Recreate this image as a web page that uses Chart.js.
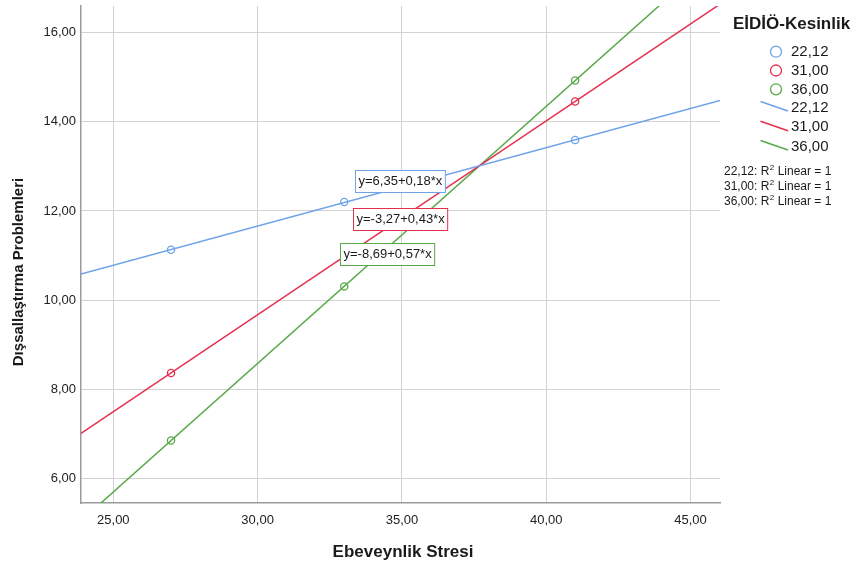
<!DOCTYPE html>
<html>
<head>
<meta charset="utf-8">
<script src="https://cdn.jsdelivr.net/npm/chart.js@4.4.0/dist/chart.umd.min.js"></script>
<style>
  html, body { margin: 0; padding: 0; background: #fff; }
  #wrap { width: 859px; height: 568px; }
</style>
</head>
<body>
<div id="wrap"><canvas id="chart" width="859" height="568"></canvas></div>
<script>
// EİDİÖ-Kesinlik groups and their colours
const groups = ["22,12", "31,00", "36,00"];
const colors = ["#6ea3e8", "#e4304f", "#59a94a"];

// observed points (Ebeveynlik Stresi -> Dışsallaştırma Problemleri)
const stressX = [27, 33, 41];
const valuesLow = [11.13, 12.20, 13.59];
const valuesMid = [8.37, 10.98, 14.45];
const valuesHigh = [6.86, 10.31, 14.92];

// printed regression equations
const eqIntercepts = [6.35, -3.27, -8.69];
const eqSlopes = [0.18, 0.43, 0.57];

const xTicks = [25, 30, 35, 40, 45];
const yTicks = [6, 8, 10, 12, 14, 16];
const xRange = [23.88, 46.02];
const yRange = [5.46, 16.59];

const fmt = v => v.toFixed(2).replace('.', ',');

// least squares fit through the points, drawn across the whole x range
function fitLine(xs, ys) {
  const n = xs.length;
  const mx = xs.reduce((a, b) => a + b, 0) / n;
  const my = ys.reduce((a, b) => a + b, 0) / n;
  let sxy = 0, sxx = 0;
  for (let i = 0; i < n; i++) {
    sxy += (xs[i] - mx) * (ys[i] - my);
    sxx += (xs[i] - mx) * (xs[i] - mx);
  }
  const b = sxy / sxx;
  const a = my - b * mx;
  return xRange.map(x => ({ x: x, y: a + b * x }));
}

const seriesList = [valuesLow, valuesMid, valuesHigh];
const datasets = [];
seriesList.forEach((vals, i) => {
  datasets.push({
    type: 'line',
    label: groups[i],
    data: fitLine(stressX, vals),
    borderColor: colors[i],
    borderWidth: 1.5,
    pointRadius: 0,
    fill: false,
    order: 2
  });
});
seriesList.forEach((vals, i) => {
  datasets.push({
    type: 'scatter',
    label: groups[i],
    data: stressX.map((x, j) => ({ x: x, y: vals[j] })),
    borderColor: colors[i],
    backgroundColor: 'rgba(0,0,0,0)',
    borderWidth: 1.3,
    pointRadius: 3.6,
    order: 1
  });
});

// where the equation boxes sit (offset from x=33, centre y in px)
const eqBoxes = [
  { dx: 11, cy: 180.5 },
  { dx: 8.5, cy: 219.3 },
  { dx: -4, cy: 254 }
];

const overlay = {
  id: 'overlay',
  afterDatasetsDraw(chart) {
    const ctx = chart.ctx;
    const x33 = chart.scales.x.getPixelForValue(33);
    ctx.save();
    ctx.font = '13px "Liberation Sans", Arial, sans-serif';
    ctx.textBaseline = 'middle';
    eqBoxes.forEach((b, i) => {
      const txt = 'y=' + fmt(eqIntercepts[i]) + '+' + fmt(eqSlopes[i]) + '*x';
      const w = ctx.measureText(txt).width + 6;
      const left = Math.round(x33 + b.dx) + 0.5;
      const top = Math.round(b.cy - 11) + 0.5;
      ctx.fillStyle = '#fff';
      ctx.fillRect(left, top, w, 22);
      ctx.strokeStyle = colors[i];
      ctx.lineWidth = 1;
      ctx.strokeRect(left, top, w, 22);
      ctx.fillStyle = '#1a1a1a';
      ctx.fillText(txt, left + 3, b.cy + 0.5);
    });
    ctx.restore();
  },
  afterDraw(chart) {
    const ctx = chart.ctx;
    ctx.save();
    ctx.fillStyle = '#1a1a1a';

    // axis titles
    ctx.font = 'bold 17px "Liberation Sans", Arial, sans-serif';
    ctx.textAlign = 'center';
    ctx.textBaseline = 'middle';
    ctx.fillText('Ebeveynlik Stresi', 403, 552);
    ctx.save();
    ctx.translate(18.5, 272);
    ctx.rotate(-Math.PI / 2);
    ctx.font = 'bold 15px "Liberation Sans", Arial, sans-serif';
    ctx.fillText('Dışsallaştırma Problemleri', 0, 0);
    ctx.restore();

    // legend
    ctx.textAlign = 'left';
    ctx.font = 'bold 17px "Liberation Sans", Arial, sans-serif';
    ctx.fillText('EİDİÖ-Kesinlik', 733, 24);

    ctx.font = '15px "Liberation Sans", Arial, sans-serif';
    const markY = [51.7, 70.5, 89.3];
    const lineY = [107, 126.7, 146];
    groups.forEach((g, i) => {
      ctx.strokeStyle = colors[i];
      ctx.lineWidth = 1.3;
      ctx.beginPath();
      ctx.arc(776, markY[i], 5.5, 0, Math.PI * 2);
      ctx.stroke();
      ctx.fillText(g, 791, markY[i] + 0.5);
    });
    groups.forEach((g, i) => {
      ctx.strokeStyle = colors[i];
      ctx.lineWidth = 1.5;
      ctx.beginPath();
      ctx.moveTo(760.5, lineY[i] - 5.5);
      ctx.lineTo(788, lineY[i] + 4);
      ctx.stroke();
      ctx.fillText(g, 791, lineY[i] + 0.5);
    });

    const r2Y = [171.7, 186.7, 201.7];
    groups.forEach((g, i) => {
      let x = 724;
      ctx.font = '12px "Liberation Sans", Arial, sans-serif';
      const head = g + ': R';
      ctx.fillText(head, x, r2Y[i]);
      x += ctx.measureText(head).width;
      ctx.font = '8px "Liberation Sans", Arial, sans-serif';
      ctx.fillText('2', x + 0.5, r2Y[i] - 4);
      x += ctx.measureText('2').width + 0.5;
      ctx.font = '12px "Liberation Sans", Arial, sans-serif';
      ctx.fillText(' Linear = 1', x, r2Y[i]);
    });
    ctx.restore();
  }
};

const tickFont = { family: '"Liberation Sans", Arial, sans-serif', size: 13 };

new Chart(document.getElementById('chart'), {
  data: { datasets: datasets },
  options: {
    responsive: false,
    animation: false,
    layout: { padding: { top: 6, right: 139, left: 0, bottom: 0 } },
    plugins: {
      legend: { display: false },
      tooltip: { enabled: false }
    },
    scales: {
      x: {
        type: 'linear',
        min: xRange[0],
        max: xRange[1],
        afterBuildTicks: s => { s.ticks = xTicks.map(v => ({ value: v })); },
        afterFit: s => { s.height = 65; s.paddingLeft = 0; s.paddingRight = 0; },
        ticks: { font: tickFont, color: '#222', padding: 10, maxRotation: 0, callback: v => fmt(v) },
        grid: { color: '#d2d2d2', lineWidth: 1, drawTicks: false },
        border: { color: '#9a9a9a', width: 1.5 }
      },
      y: {
        type: 'linear',
        min: yRange[0],
        max: yRange[1],
        afterBuildTicks: s => { s.ticks = yTicks.map(v => ({ value: v })); },
        afterFit: s => { s.width = 81; s.paddingTop = 0; s.paddingBottom = 0; },
        ticks: { font: tickFont, color: '#222', padding: 5, callback: v => fmt(v) },
        grid: { color: '#d2d2d2', lineWidth: 1, drawTicks: false },
        border: { color: '#9a9a9a', width: 1.5 }
      }
    }
  },
  plugins: [overlay]
});
</script>
</body>
</html>
